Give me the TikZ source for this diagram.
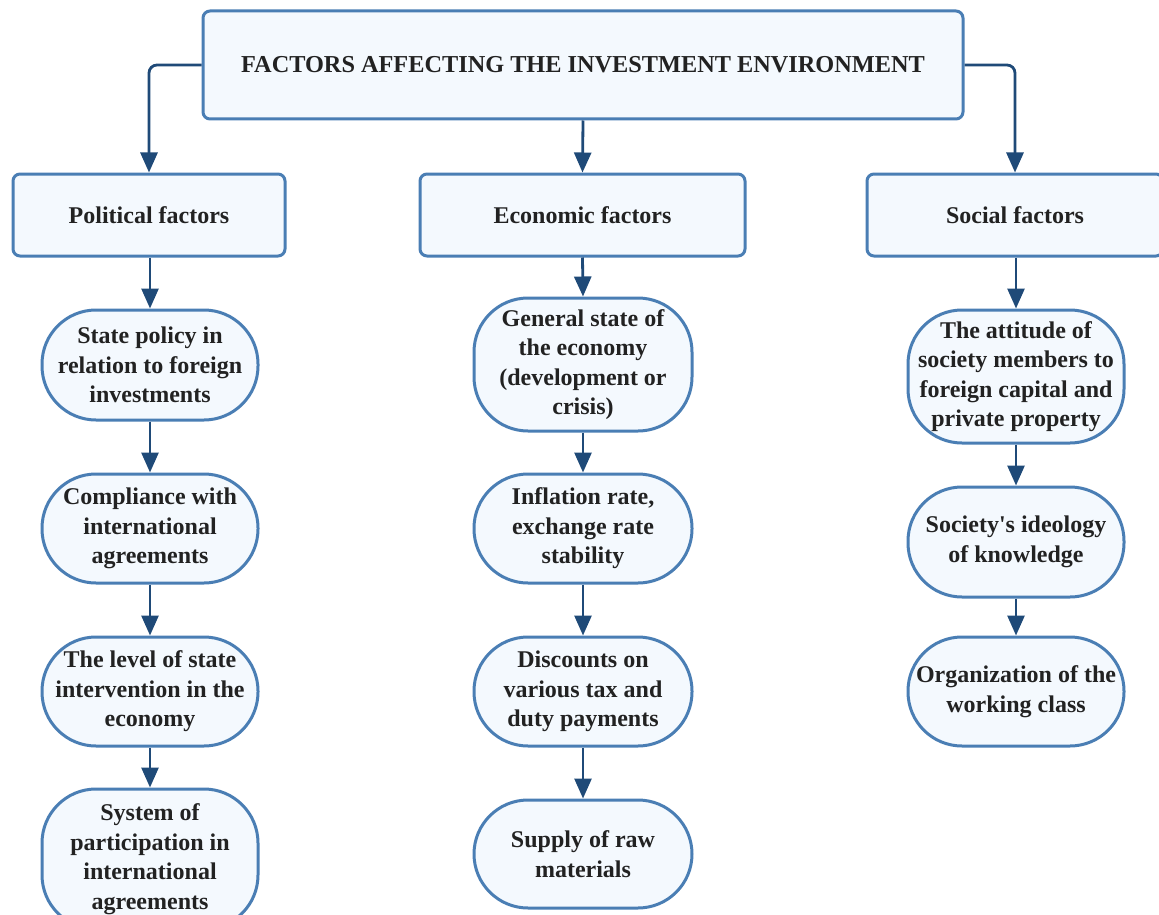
\documentclass[tikz,border=0pt]{standalone}
\usepackage{fontspec}
\setmainfont{Liberation Serif}
\usetikzlibrary{arrows.meta}
\definecolor{edgeblue}{HTML}{4A7EB4}
\definecolor{fillblue}{HTML}{F4F9FE}
\definecolor{arrowblue}{HTML}{1F4A78}
\definecolor{inkgray}{HTML}{222222}
\tikzset{
  base/.style={draw=edgeblue, fill=fillblue, line width=3pt, text=inkgray,
    align=center, inner sep=0pt, font=\bfseries\fontsize{24}{29.5}\selectfont},
  titlebox/.style={base, rounded corners=7pt, font=\bfseries\fontsize{24.3}{26}\selectfont},
  groupbox/.style={base, rounded corners=7pt},
  itembox/.style={base, rounded corners=54pt},
  link/.style={draw=arrowblue, line width=2.8pt,
    -{Triangle[length=20pt,width=17pt]}, rounded corners=8pt}
}
\begin{document}
\begin{tikzpicture}[x=1pt,y=-1pt]
\useasboundingbox (0,0) rectangle (1159,915);
\begin{scope}
\clip (0,0) rectangle (1159,915);
% title
\node[titlebox, minimum width=760pt, minimum height=108pt] (top) at (583,65) {FACTORS AFFECTING THE INVESTMENT ENVIRONMENT};
% groups
\node[groupbox, minimum width=272pt, minimum height=82pt] (pol) at (149,215) {Political factors};
\node[groupbox, minimum width=325pt, minimum height=82pt] (eco) at (582.5,215) {Economic factors};
\node[groupbox, minimum width=296pt, minimum height=82pt] (soc) at (1015,215) {Social factors};
% political column
\node[itembox, minimum width=216pt, minimum height=110pt] (p1) at (150,365) {State policy in\\relation to foreign\\investments};
\node[itembox, minimum width=216pt, minimum height=109pt] (p2) at (150,528.5) {Compliance with\\international\\agreements};
\node[itembox, minimum width=216pt, minimum height=109pt] (p3) at (150,691.5) {The level of state\\intervention in the\\economy};
\node[itembox, minimum width=216pt, minimum height=140pt] (p4) at (150,859) {System of\\participation in\\international\\agreements};
% economic column
\node[itembox, minimum width=218pt, minimum height=133pt] (e1) at (583,364.5) {General state of\\the economy\\(development or\\crisis)};
\node[itembox, minimum width=218pt, minimum height=109pt] (e2) at (583,528.5) {Inflation rate,\\exchange rate\\stability};
\node[itembox, minimum width=218pt, minimum height=109pt] (e3) at (583,691.5) {Discounts on\\various tax and\\duty payments};
\node[itembox, minimum width=218pt, minimum height=108pt] (e4) at (583,854) {Supply of raw\\materials};
% social column
\node[itembox, minimum width=216pt, minimum height=133pt] (s1) at (1016,376.5) {The attitude of\\society members to\\foreign capital and\\private property};
\node[itembox, minimum width=216pt, minimum height=110pt] (s2) at (1016,542) {Society\textquotesingle s ideology\\of knowledge};
\node[itembox, minimum width=216pt, minimum height=109pt] (s3) at (1016,691.5) {Organization of the\\working class};
% connectors
\draw[link] (top.west |- 0,65) -| (pol.north);
\draw[link] (top.east |- 0,65) -| (soc.north);
\draw[link] (top.south) -- (eco.north);
\draw[link] (pol.south -| p1.north) -- (p1.north);
\draw[link] (p1) -- (p2);
\draw[link] (p2) -- (p3);
\draw[link] (p3) -- (p4);
\draw[link] (eco.south) -- (e1.north);
\draw[link] (e1) -- (e2);
\draw[link] (e2) -- (e3);
\draw[link] (e3) -- (e4);
\draw[link] (soc.south -| s1.north) -- (s1.north);
\draw[link] (s1) -- (s2);
\draw[link] (s2) -- (s3);
\end{scope}
\end{tikzpicture}
\end{document}
